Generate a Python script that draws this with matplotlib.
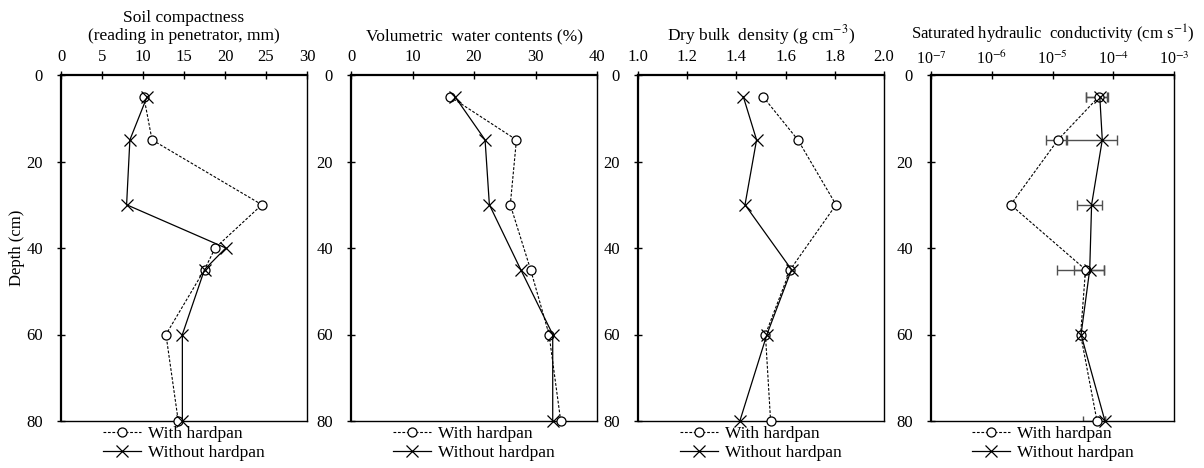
import matplotlib
matplotlib.use("Agg")
import matplotlib.pyplot as plt
from matplotlib.ticker import FixedLocator, NullLocator, FormatStrFormatter

plt.rcParams['font.family'] = ['Liberation Serif', 'DejaVu Serif']
plt.rcParams['mathtext.fontset'] = 'stix'

# Sampling depths (cm)
depth_sc = [5, 15, 30, 40, 45, 60, 80]
depth = [5, 15, 30, 45, 60, 80]

# Soil compactness (reading in penetrator, mm)
sc_with = [10.1, 11.1, 24.5, 18.8, 17.5, 12.8, 14.3]
sc_without = [10.5, 8.4, 8.0, 20.1, 17.5, 14.8, 14.8]

# Volumetric water contents (%)
vwc_with = [16.1, 26.9, 25.9, 29.2, 32.2, 34.1]
vwc_without = [16.9, 21.8, 22.5, 27.6, 32.8, 32.8]

# Dry bulk density (g cm-3)
bd_with = [1.508, 1.650, 1.805, 1.619, 1.518, 1.539]
bd_without = [1.428, 1.482, 1.435, 1.624, 1.524, 1.414]

# Saturated hydraulic conductivity (cm s-1) with lower / upper error limits
ks_with = [5.8e-5, 1.23e-5, 2.05e-6, 3.5e-5, 2.9e-5, 5.4e-5]
ks_with_lo = [3.5e-5, 7.8e-6, 2.05e-6, 1.18e-5, 2.8e-5, 3.2e-5]
ks_with_hi = [8.1e-5, 1.66e-5, 2.05e-6, 7.0e-5, 3.0e-5, 5.6e-5]
ks_without = [6.0e-5, 6.6e-5, 4.4e-5, 4.1e-5, 2.95e-5, 7.3e-5]
ks_without_lo = [3.6e-5, 1.74e-5, 2.5e-5, 2.3e-5, 2.85e-5, 7.2e-5]
ks_without_hi = [8.0e-5, 1.15e-4, 6.5e-5, 7.1e-5, 3.05e-5, 7.4e-5]

titles = ["Soil compactness\n(reading in penetrator, mm)",
          "Volumetric  water contents (%)",
          "Dry bulk  density (g cm$^{-3}$)",
          "Saturated hydraulic  conductivity (cm s$^{-1}$)"]
title_sizes = [12.5, 12.5, 12.5, 12]

W, H = 1204, 468
fig = plt.figure(figsize=(W / 100, H / 100), dpi=100)

# axes boxes in pixels: left, right
boxes = [(61, 307), (351, 597), (638, 884), (931, 1174)]
top_px, bot_px = 75, 421

axes = []
for l, r in boxes:
    ax = fig.add_axes([l / W, 1 - bot_px / H, (r - l) / W, (bot_px - top_px) / H])
    axes.append(ax)

with_style = dict(color='black', linestyle=(0, (2.5, 1.5)), linewidth=0.8, marker='o',
                  markersize=6.5, markerfacecolor='white', markeredgecolor='black',
                  markeredgewidth=0.9, label='With hardpan', clip_on=False, zorder=3)
without_style = dict(color='black', linestyle='-', linewidth=0.9, marker='x',
                     markersize=8, markeredgewidth=0.9, label='Without hardpan',
                     clip_on=False, zorder=4)

ax = axes[0]
ax.plot(sc_with, depth_sc, **with_style)
ax.plot(sc_without, depth_sc, **without_style)
ax.set_xlim(0, 30)
ax.xaxis.set_major_locator(FixedLocator([0, 5, 10, 15, 20, 25, 30]))

ax = axes[1]
ax.plot(vwc_with, depth, **with_style)
ax.plot(vwc_without, depth, **without_style)
ax.set_xlim(0, 40)
ax.xaxis.set_major_locator(FixedLocator([0, 10, 20, 30, 40]))

ax = axes[2]
ax.plot(bd_with, depth, **with_style)
ax.plot(bd_without, depth, **without_style)
ax.set_xlim(1.0, 2.0)
ax.xaxis.set_major_locator(FixedLocator([1.0, 1.2, 1.4, 1.6, 1.8, 2.0]))
ax.xaxis.set_major_formatter(FormatStrFormatter('%.1f'))

ax = axes[3]
ax.set_xscale('log')
err_kw = dict(ecolor='#505050', elinewidth=1.0, capsize=3.5, capthick=1.0, fmt='none',
              zorder=2)
ax.errorbar(ks_with, depth,
            xerr=[[v - lo for v, lo in zip(ks_with, ks_with_lo)],
                  [hi - v for v, hi in zip(ks_with, ks_with_hi)]], **err_kw)
ax.errorbar(ks_without, depth,
            xerr=[[v - lo for v, lo in zip(ks_without, ks_without_lo)],
                  [hi - v for v, hi in zip(ks_without, ks_without_hi)]], **err_kw)
ax.plot(ks_with, depth, **with_style)
ax.plot(ks_without, depth, **without_style)
ax.set_xlim(1e-7, 1e-3)
ax.xaxis.set_major_locator(FixedLocator([1e-7, 1e-6, 1e-5, 1e-4, 1e-3]))
ax.xaxis.set_minor_locator(NullLocator())
ax.set_xticklabels(["10$^{-7}$", "10$^{-6}$", "10$^{-5}$", "10$^{-4}$", "10$^{-3}$"])

for i, ax in enumerate(axes):
    ax.set_ylim(80, 0)
    ax.yaxis.set_major_locator(FixedLocator([0, 20, 40, 60, 80]))
    ax.xaxis.tick_top()
    ax.tick_params(axis='both', which='major', direction='inout', length=6, width=1.0,
                   labelsize=12)
    ax.tick_params(axis='x', pad=4)
    ax.tick_params(axis='y', pad=10)
    ax.spines['top'].set_linewidth(1.6)
    ax.spines['left'].set_linewidth(1.6)
    ax.spines['right'].set_linewidth(1.0)
    ax.spines['bottom'].set_linewidth(1.0)
    ax.legend(loc='upper center', bbox_to_anchor=(0.5, 0.015), frameon=False,
              fontsize=12.5, labelspacing=0.15, handlelength=2.2, handletextpad=0.4,
              borderpad=0.1)

    # panel headings sit at a fixed height above the tick labels
    cx = (boxes[i][0] + boxes[i][1]) / 2 / W
    fig.text(cx, 1 - 40 / H, titles[i], ha='center', va='baseline',
             fontsize=title_sizes[i], linespacing=1.2)

# log axis labels carry superscripts, keep them tight to the spine
axes[3].tick_params(axis='x', pad=2, labelsize=11.5)

axes[0].set_ylabel("Depth (cm)", fontsize=12, labelpad=1)

fig.savefig("out.png", dpi=100)
